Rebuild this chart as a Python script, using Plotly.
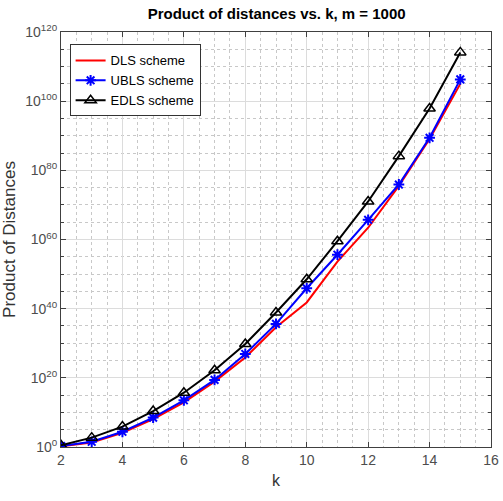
import numpy as np
import plotly.graph_objects as go

k = [2, 3, 4, 5, 6, 7, 8, 9, 10, 11, 12, 13, 14, 15]
# log10 of product of distances
dls_exp = [0.2, 1.3, 4.1, 8.1, 12.9, 18.9, 25.9, 34.6, 41.8, 53.6, 63.4, 75.5, 89.1, 105.0]
ubls_exp = [0.3, 1.5, 4.4, 8.5, 13.5, 19.4, 26.9, 35.6, 45.9, 55.6, 65.7, 75.9, 89.4, 106.3]
edls_exp = [0.5, 2.7, 5.9, 10.4, 15.7, 22.2, 29.8, 38.9, 48.5, 59.5, 71.0, 84.1, 97.9, 114.1]

y_major = [0, 20, 40, 60, 80, 100, 120]
y_minor = [e for e in range(0, 121, 5) if e % 20 != 0]
x_major = [2, 4, 6, 8, 10, 12, 14, 16]

FONT = "Liberation Sans, Arial"

fig = go.Figure()
fig.add_trace(go.Scatter(x=k, y=10.0 ** np.array(dls_exp), mode="lines", name="DLS scheme",
                         line=dict(color="#ff0000", width=2)))
fig.add_trace(go.Scatter(x=k, y=10.0 ** np.array(ubls_exp), mode="lines+markers", name="UBLS scheme",
                         line=dict(color="#0000ff", width=2),
                         marker=dict(symbol="asterisk-open", size=9, color="#0000ff",
                                     line=dict(color="#0000ff", width=2))))
fig.add_trace(go.Scatter(x=k, y=10.0 ** np.array(edls_exp), mode="lines+markers", name="EDLS scheme",
                         line=dict(color="#000000", width=2),
                         marker=dict(symbol="triangle-up-open", size=10, color="#000000",
                                     line=dict(color="#000000", width=1.5))))

axis_common = dict(showline=True, linecolor="#404040", linewidth=1, mirror="ticks",
                   ticks="inside", ticklen=5, tickcolor="#404040",
                   gridcolor="#dcdcdc", gridwidth=1, zeroline=False, automargin=False,
                   tickfont=dict(family=FONT, size=14, color="#4d4d4d"))

fig.update_xaxes(range=[2, 16], tickvals=x_major, ticktext=[str(v) for v in x_major],
                 title=dict(text="k", font=dict(family=FONT, size=16, color="#333333"),
                            standoff=8),
                 minor=dict(dtick=0.5, showgrid=True, gridcolor="#c8c8c8", griddash="dot",
                            ticks="", gridwidth=1),
                 **axis_common)
fig.update_yaxes(type="log", range=[0, 120],
                 tickvals=[10.0 ** e for e in y_major],
                 ticktext=["10<sup>%d</sup>" % e for e in y_major],
                 title=dict(text="Product of Distances",
                            font=dict(family=FONT, size=17, color="#333333"),
                            standoff=6),
                 minor=dict(tickvals=[10.0 ** e for e in y_minor], showgrid=True, gridcolor="#c8c8c8",
                            griddash="dot", ticks="inside", ticklen=3, tickcolor="#404040", gridwidth=1),
                 **axis_common)

fig.update_layout(
    width=503, height=501,
    margin=dict(l=61, r=12, t=32, b=54),
    paper_bgcolor="white", plot_bgcolor="white",
    title=dict(text="<b>Product of distances vs. k, m = 1000</b>", x=0.55, xanchor="center",
               y=0.972, yanchor="middle",
               font=dict(family=FONT, size=15, color="#000000")),
    legend=dict(x=0.02, y=0.97, xanchor="left", yanchor="top", bgcolor="white",
                bordercolor="#333333", borderwidth=1,
                font=dict(family=FONT, size=13, color="#000000"),
                itemwidth=30, tracegroupgap=0),
    showlegend=True,
)

fig.write_html("out.html")
